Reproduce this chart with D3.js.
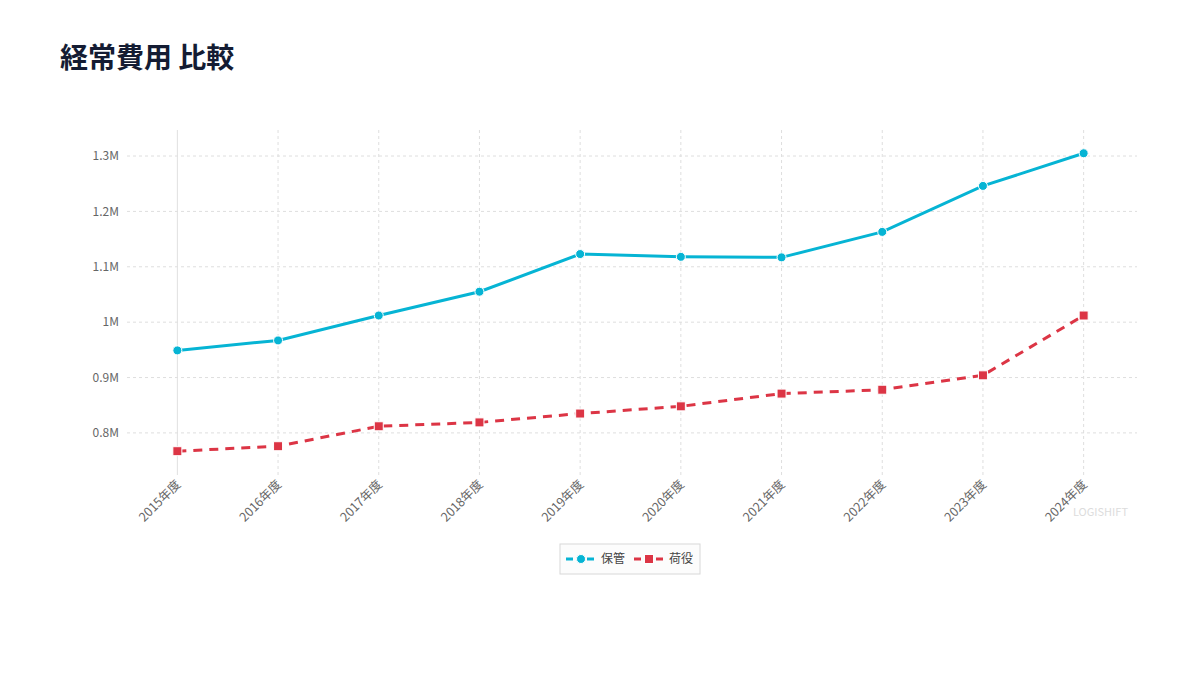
<!DOCTYPE html>
<html>
<head>
<meta charset="utf-8">
<script src="https://cdn.jsdelivr.net/npm/d3@7"></script>
<style>
  body { margin: 0; background: #fff; font-family: "Noto Sans CJK JP", "Noto Sans", sans-serif; }
  #canvas { width: 1200px; height: 675px; }
</style>
</head>
<body>
<div id="canvas"></div>
<script>
// DATA
const years = ["2015年度", "2016年度", "2017年度", "2018年度", "2019年度", "2020年度", "2021年度", "2022年度", "2023年度", "2024年度"];
const storage = [949000, 967000, 1012000, 1055000, 1123000, 1118000, 1117000, 1163000, 1246000, 1305000];
const handling = [767000, 776000, 812000, 819000, 835000, 848000, 871000, 878000, 904000, 1012000];
const yTicks = [800000, 900000, 1000000, 1100000, 1200000, 1300000];
const seriesNames = ["保管", "荷役"];

// DIMENSIONS
const width = 1200;
const height = 675;
const margin = { top: 130, right: 63, bottom: 200, left: 127 };
const plot_width = width - margin.left - margin.right;
const plot_height = height - margin.top - margin.bottom;

const blue = "#06b4d4";
const red = "#dc3545";

// CANVAS
const canvas = d3.select("#canvas")
  .append("svg")
  .attr("width", width)
  .attr("height", height);

canvas.append("text")
  .attr("x", 60)
  .attr("y", 68)
  .style("font-size", "28px")
  .style("font-weight", "bold")
  .style("fill", "#141c33")
  .text("経常費用 比較");

const plot = canvas.append("g")
  .attr("transform", `translate(${margin.left},${margin.top})`);

// SCALES
const x = d3.scalePoint()
  .domain(years)
  .range([0, 1007])
  .padding(0.5);

const y = d3.scaleLinear()
  .domain([724000, 1347000])
  .range([plot_height, 0]);

const fmt = d => d === 1000000 ? "1M" : d3.format(".1f")(d / 1e6) + "M";

// GRID
plot.selectAll("line.hgrid")
  .data(yTicks)
  .join("line")
  .attr("class", "hgrid")
  .attr("x1", 0)
  .attr("x2", plot_width)
  .attr("y1", d => y(d))
  .attr("y2", d => y(d))
  .style("stroke", "#dedede")
  .style("stroke-dasharray", "3,3");

plot.selectAll("line.vgrid")
  .data(years)
  .join("line")
  .attr("class", "vgrid")
  .attr("x1", d => x(d))
  .attr("x2", d => x(d))
  .attr("y1", 0)
  .attr("y2", plot_height)
  .style("stroke", (d, i) => i === 0 ? "#e0e0e0" : "#dedede")
  .style("stroke-dasharray", (d, i) => i === 0 ? null : "3,3");

// AXES LABELS
plot.selectAll("text.ylab")
  .data(yTicks)
  .join("text")
  .attr("class", "ylab")
  .attr("x", -8)
  .attr("y", d => y(d))
  .attr("dy", "0.35em")
  .attr("text-anchor", "end")
  .style("font-size", "12px")
  .style("fill", "#666")
  .text(fmt);

plot.selectAll("text.xlab")
  .data(years)
  .join("text")
  .attr("class", "xlab")
  .attr("transform", d => `translate(${x(d) + 1},${plot_height + 7}) rotate(-45)`)
  .attr("text-anchor", "end")
  .attr("dy", "0.35em")
  .style("font-size", "12.5px")
  .style("fill", "#666")
  .text(d => d);

// LINES
const line = d3.line()
  .x((d, i) => x(years[i]))
  .y(d => y(d));

plot.append("path")
  .datum(storage)
  .attr("d", line)
  .style("fill", "none")
  .style("stroke", blue)
  .style("stroke-width", 3);

plot.append("path")
  .datum(handling)
  .attr("d", line)
  .style("fill", "none")
  .style("stroke", red)
  .style("stroke-width", 3)
  .style("stroke-dasharray", "9,7");

// MARKERS
plot.selectAll("circle.pt")
  .data(storage)
  .join("circle")
  .attr("class", "pt")
  .attr("cx", (d, i) => x(years[i]))
  .attr("cy", d => y(d))
  .attr("r", 4.5)
  .style("fill", blue)
  .style("stroke", "#fff")
  .style("stroke-width", 1);

plot.selectAll("rect.pt")
  .data(handling)
  .join("rect")
  .attr("class", "pt")
  .attr("x", (d, i) => x(years[i]) - 4.5)
  .attr("y", d => y(d) - 4.5)
  .attr("width", 9)
  .attr("height", 9)
  .style("fill", red)
  .style("stroke", "#fff")
  .style("stroke-width", 1);

// WATERMARK
canvas.append("text")
  .attr("x", 1128)
  .attr("y", 516)
  .attr("text-anchor", "end")
  .style("font-size", "11px")
  .style("fill", "#dcdcdc")
  .text("LOGISHIFT");

// LEGEND
const legend = canvas.append("g").attr("transform", "translate(560,544)");
legend.append("rect")
  .attr("width", 140)
  .attr("height", 30)
  .style("fill", "#fcfcfc")
  .style("stroke", "#d8d8d8");

const items = legend.selectAll("g.item")
  .data(seriesNames)
  .join("g")
  .attr("class", "item")
  .attr("transform", (d, i) => `translate(${6 + i * 68},15)`);

items.append("line")
  .attr("x1", 0).attr("x2", 30)
  .style("stroke", (d, i) => i === 0 ? blue : red)
  .style("stroke-width", 3)
  .style("stroke-dasharray", (d, i) => i === 0 ? "7,3.5" : "7,4");

items.filter((d, i) => i === 0).append("circle")
  .attr("cx", 15).attr("r", 4.5)
  .style("fill", blue).style("stroke", "#fff");

items.filter((d, i) => i === 1).append("rect")
  .attr("x", 10.5).attr("y", -4.5).attr("width", 9).attr("height", 9)
  .style("fill", red).style("stroke", "#fff");

items.append("text")
  .attr("x", 35)
  .attr("dy", "0.35em")
  .style("font-size", "12px")
  .style("fill", "#444")
  .text(d => d);
</script>
</body>
</html>
